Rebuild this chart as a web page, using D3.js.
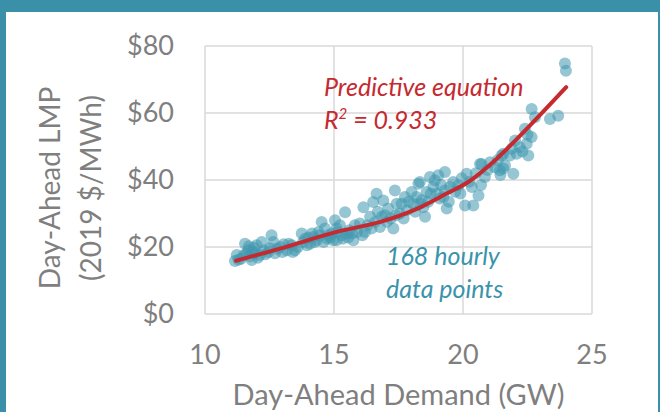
<!DOCTYPE html>
<html>
<head>
<meta charset="utf-8">
<script src="https://cdn.jsdelivr.net/npm/d3@7"></script>
<style>
  html, body { margin: 0; padding: 0; background: #fff; }
  svg { display: block; font-family: Lato, "Open Sans", sans-serif; }
</style>
</head>
<body>
<div id="chart"></div>
<script>
// hourly observations (GW, $/MWh)
const demand = [
  11.16, 11.23, 11.30, 11.40, 11.50, 11.55, 11.60, 11.68, 11.70, 11.75, 11.81, 11.85, 11.90, 11.94, 12.00, 12.05,
  12.13, 12.20, 12.30, 12.35, 12.45, 12.52, 12.58, 12.65, 12.71, 12.80, 12.91, 13.00, 13.05, 13.17, 13.25, 13.36,
  13.40, 13.49, 13.60, 13.75, 13.80, 13.88, 13.95, 14.00, 14.07, 14.15, 14.20, 14.25, 14.33, 14.40, 14.46, 14.52,
  14.60, 14.65, 14.72, 14.80, 14.85, 14.91, 14.97, 15.04, 15.10, 15.10, 15.15, 15.23, 15.30, 15.35, 15.43, 15.49,
  15.55, 15.60, 15.70, 15.75, 15.81, 15.90, 16.00, 16.10, 16.14, 16.20, 16.30, 16.40, 16.45, 16.52, 16.60, 16.65,
  16.70, 16.78, 16.85, 16.91, 16.98, 17.05, 17.10, 17.20, 17.30, 17.36, 17.40, 17.43, 17.55, 17.62, 17.70, 17.75,
  17.82, 17.90, 18.01, 18.07, 18.15, 18.20, 18.27, 18.33, 18.35, 18.40, 18.46, 18.53, 18.59, 18.65, 18.72, 18.75,
  18.85, 18.91, 18.98, 19.04, 19.10, 19.15, 19.24, 19.30, 19.30, 19.37, 19.45, 19.50, 19.62, 19.70, 19.82, 19.90,
  19.95, 20.08, 20.14, 20.25, 20.34, 20.40, 20.50, 20.60, 20.66, 20.70, 20.72, 20.85, 20.95, 21.05, 21.24, 21.35,
  21.43, 21.45, 21.50, 21.56, 21.56, 21.63, 21.82, 21.89, 21.95, 22.02, 22.08, 22.20, 22.30, 22.40, 22.47, 22.50,
  22.53, 22.66, 22.66, 22.79, 23.37, 23.69, 23.95, 23.99
];
const lmp = [
  15.8, 17.6, 16.2, 16.5, 17.5, 21.0, 18.0, 19.0, 20.2, 17.2, 16.1, 18.6, 19.8, 18.1, 20.5, 16.8,
  17.6, 21.5, 19.0, 17.8, 18.5, 19.6, 23.5, 21.5, 18.1, 19.5, 20.0, 18.5, 20.8, 19.0, 21.0, 20.5,
  18.5, 19.0, 20.0, 24.0, 21.5, 22.5, 20.5, 22.8, 21.0, 24.0, 23.0, 21.5, 22.0, 24.5, 23.5, 27.5,
  21.5, 25.5, 22.5, 23.5, 22.8, 24.0, 22.0, 28.0, 25.5, 22.0, 24.5, 26.5, 23.5, 22.5, 30.4, 24.0,
  22.8, 25.0, 24.0, 22.0, 26.5, 24.5, 27.0, 23.5, 31.9, 24.5, 26.5, 29.0, 25.5, 33.4, 27.5, 35.9,
  30.5, 26.0, 29.0, 33.9, 29.5, 27.5, 31.5, 28.5, 25.5, 36.9, 29.5, 32.9, 30.0, 32.9, 28.5, 34.9,
  31.0, 33.5, 36.4, 32.9, 30.5, 34.9, 38.9, 39.4, 33.0, 34.0, 31.9, 29.0, 36.4, 33.5, 40.9, 35.9,
  38.0, 39.9, 35.9, 41.4, 34.5, 38.5, 34.9, 42.4, 36.9, 31.5, 33.5, 38.0, 39.4, 36.5, 38.4, 36.0,
  40.5, 32.4, 41.9, 39.5, 37.9, 32.4, 42.0, 35.4, 44.8, 38.5, 44.8, 40.9, 43.0, 45.3, 43.8, 46.0,
  42.9, 41.5, 47.3, 47.8, 43.4, 44.3, 47.3, 49.3, 41.9, 51.8, 47.8, 49.8, 48.5, 55.3, 50.8, 53.5,
  47.3, 61.2, 52.8, 58.7, 58.2, 59.2, 74.8, 72.6
];

// predictive equation
const fitDemand = [11.2, 12.9, 15.1, 16.8, 18.1, 19.4, 20.2, 21.3, 22.6, 24.0];
const fitLmp = [15.9, 19.5, 24.5, 27.5, 31.0, 36.1, 39.4, 46.3, 56.3, 67.7];

const xTicks = [10, 15, 20, 25];
const yTicks = [0, 20, 40, 60, 80];

const width = 660, height = 412;
const frame = "#3a90a8", gray = "#7f7f7f", grid = "#d9d9d9";
const red = "#c52a30", teal = "#3a93ab";

const svg = d3.select("#chart").append("svg")
  .attr("width", width)
  .attr("height", height);

// frame of the slide panel
svg.append("rect").attr("x", 0).attr("y", 0).attr("width", width).attr("height", height).attr("fill", frame);
svg.append("rect").attr("x", 6).attr("y", 12).attr("width", width - 8).attr("height", height - 12).attr("fill", "#fff");

const x = d3.scaleLinear().domain([10, 25]).range([205, 592]);
const y = d3.scaleLinear().domain([0, 80]).range([314, 46]);

// gridlines
svg.append("g").selectAll("line").data(xTicks).join("line")
  .attr("x1", d => x(d)).attr("x2", d => x(d))
  .attr("y1", y(0)).attr("y2", y(80))
  .attr("stroke", grid).attr("stroke-width", 1.5);
svg.append("g").selectAll("line").data(yTicks).join("line")
  .attr("x1", x(10)).attr("x2", x(25))
  .attr("y1", d => y(d)).attr("y2", d => y(d))
  .attr("stroke", grid).attr("stroke-width", 1.5);

// tick labels
svg.append("g").selectAll("text").data(yTicks).join("text")
  .attr("x", 174).attr("y", d => y(d))
  .attr("dy", "0.35em")
  .attr("text-anchor", "end")
  .attr("fill", gray).style("font-size", "27px")
  .text(d => "$" + d);
svg.append("g").selectAll("text").data(xTicks).join("text")
  .attr("x", d => x(d)).attr("y", 355)
  .attr("dy", "0.35em")
  .attr("text-anchor", "middle")
  .attr("fill", gray).style("font-size", "27px")
  .text(d => d);

// axis titles
svg.append("text")
  .attr("x", x(17.5)).attr("y", 405)
  .attr("text-anchor", "middle")
  .attr("fill", gray).style("font-size", "29px")
  .text("Day-Ahead Demand (GW)");
const yTitle = svg.append("text")
  .attr("transform", "translate(0,188) rotate(-90)")
  .attr("text-anchor", "middle")
  .attr("fill", gray).style("font-size", "28px");
yTitle.append("tspan").attr("x", 0).attr("y", 60).text("Day-Ahead LMP");
yTitle.append("tspan").attr("x", 0).attr("y", 101).text("(2019 $/MWh)");

// scatter
svg.append("g").selectAll("circle").data(demand).join("circle")
  .attr("cx", d => x(d))
  .attr("cy", (d, i) => y(lmp[i]))
  .attr("r", 6)
  .attr("fill", "#4097ae")
  .attr("fill-opacity", 0.55);

// fitted curve
const line = d3.line()
  .x(d => x(d[0]))
  .y(d => y(d[1]))
  .curve(d3.curveCatmullRom);
svg.append("path")
  .datum(fitDemand.map((d, i) => [d, fitLmp[i]]))
  .attr("fill", "none")
  .attr("stroke", red)
  .attr("stroke-width", 4)
  .attr("stroke-linecap", "round")
  .attr("d", line);

// annotations
svg.append("text")
  .attr("x", 324).attr("y", 96)
  .attr("fill", red).style("font-size", "25px").style("font-style", "italic")
  .text("Predictive equation");
const r2 = svg.append("text")
  .attr("x", 324).attr("y", 129)
  .attr("fill", red).style("font-size", "25px").style("font-style", "italic");
r2.append("tspan").text("R");
r2.append("tspan").attr("dy", -10).style("font-size", "15px").text("2");
r2.append("tspan").attr("dy", 10).text(" = 0.933");

const note = svg.append("text")
  .attr("fill", teal).style("font-size", "25px").style("font-style", "italic");
note.append("tspan").attr("x", 386).attr("y", 265).text("168 hourly");
note.append("tspan").attr("x", 386).attr("y", 298).text("data points");
</script>
</body>
</html>
